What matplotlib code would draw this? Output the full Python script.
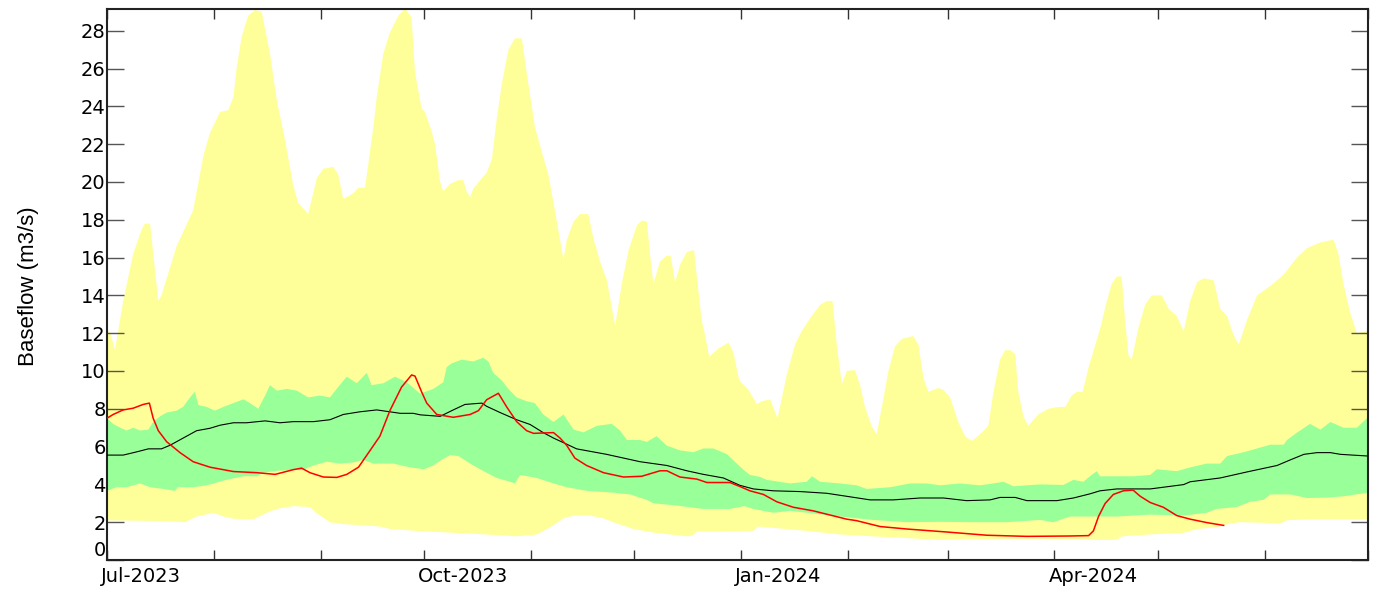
import numpy as np
import matplotlib
matplotlib.use("Agg")
import matplotlib.pyplot as plt
import matplotlib.dates as mdates
from matplotlib.transforms import ScaledTranslation
import datetime as dt

# ---------------- data (day offset from 1 Jul 2023, baseflow m3/s) ----------------
start_date = "2023-07-01"
end_date = "2024-07-01"

max_days = [0, 1, 2.3, 4.7, 7.6, 10.1, 11, 12.5, 14.9, 15.8, 20.2, 25, 28, 29.9, 32.8, 35.2,
            36.7, 37.6, 39.1, 41, 43, 44.9, 47.3, 49.3, 51.7, 54.1, 55.5, 58.4, 60.9, 62.8,
            65.7, 67.1, 68.6, 71.5, 73, 74.9, 77.3, 78.3, 80.2, 82.1, 84.6, 86.5, 88.4, 89.4,
            91.3, 92.3, 94.2, 95.2, 96.7, 97.6, 99.6, 102, 103.4, 104.4, 105.4, 106.3, 110.2,
            111.7, 113.1, 114.6, 116.5, 118.4, 120.4, 121.8, 124.2, 126.2, 128.1, 130, 132.5,
            133.4, 135.4, 137.3, 139.7, 141.2, 143.1, 145.1, 147.5, 149.4, 151.4, 153.8, 155.2,
            156.7, 157.6, 158.6, 160.5, 162.5, 163.6, 164.9, 166.3, 168.3, 170.4, 171.2, 172.6,
            173.6, 174.8, 177.5, 180.4, 181.8, 183.5, 186.2, 188.6, 190, 192.5, 194.6, 195.8,
            197.3, 199.7, 201.6, 204.5, 207, 208.9, 210.6, 211.8, 213.3, 214.7, 217.1, 218.6,
            220, 222, 223.4, 224.9, 226.8, 228.7, 230.7, 234, 235.5, 237, 238.4, 241.3, 242.8,
            244.7, 247.1, 249.1, 251, 253.4, 255.8, 257.3, 259.2, 260.7, 262.1, 263.6, 264.5,
            266, 267.4, 270.3, 273.2, 276.1, 278.1, 280, 281.5, 283.2, 284.9, 288.2, 290.2,
            291.6, 293.1, 294.5, 295.5, 296.5, 297.4, 299.4, 301.3, 303.2, 306.2, 308.1, 310.5,
            312.5, 314.4, 316.4, 318.3, 321.2, 323.1, 325.1, 327, 328.5, 330.9, 333.8, 337.7,
            341.5, 345.4, 348.3, 352.2, 356, 357.4, 358.9, 360.8, 362.8, 365.2, 366]
max_vals = [12.2, 12.0, 11.1, 13.7, 16.2, 17.5, 17.8, 17.8, 13.7, 14.0, 16.6, 18.5, 21.4, 22.6,
            23.7, 23.8, 24.5, 26.0, 27.7, 28.8, 29.1, 29.0, 26.8, 24.3, 22.2, 19.8, 18.9, 18.3,
            20.2, 20.7, 20.8, 20.4, 19.1, 19.4, 19.7, 19.7, 22.9, 24.5, 26.8, 27.9, 28.8, 29.2,
            28.7, 25.8, 23.9, 23.7, 22.7, 22.0, 20.0, 19.5, 19.9, 20.1, 20.1, 19.5, 19.2, 19.65,
            20.5, 21.2, 23.3, 25.2, 27.0, 27.6, 27.6, 25.8, 22.9, 21.6, 20.4, 18.5, 15.9, 16.9,
            17.9, 18.3, 18.3, 17.0, 15.8, 14.8, 12.4, 14.6, 16.4, 17.7, 17.96, 17.9, 16.2, 14.6,
            15.8, 16.1, 16.1, 14.7, 15.6, 16.3, 16.4, 15.0, 12.7, 11.9, 10.75, 11.2, 11.5, 11.0,
            9.5, 9.0, 8.25, 8.4, 8.5, 7.5, 8.5, 9.8, 11.4, 12.1, 12.9, 13.5, 13.7, 13.7, 11.4,
            9.3, 10.0, 10.05, 9.25, 8.1, 7.05, 6.65, 8.1, 10.0, 11.3, 11.7, 11.85, 11.4, 9.6,
            8.9, 9.1, 9.0, 8.6, 7.3, 6.55, 6.3, 6.65, 7.1, 8.9, 10.6, 11.1, 11.1, 10.9, 8.9,
            7.6, 7.1, 7.7, 8.0, 8.1, 8.1, 8.7, 8.9, 8.9, 10.2, 12.2, 13.7, 14.6, 15.0, 15.0,
            12.7, 10.8, 10.6, 12.3, 13.5, 14.0, 14.0, 13.3, 12.9, 12.1, 13.7, 14.7, 14.9, 14.8,
            13.3, 12.9, 11.9, 11.4, 12.7, 14.0, 14.5, 15.1, 16.0, 16.5, 16.8, 16.95, 16.2, 14.6,
            13.1, 12.0, 12.1, 12.1]

min_days = [0, 7.6, 17.3, 22.6, 26, 30.9, 33.8, 36.7, 42.5, 46.4, 49.3, 54.1, 58.9, 60.9, 64.7,
            68.6, 74.4, 79.2, 82.1, 89.9, 100.5, 110.2, 118.9, 124.7, 128.6, 132.5, 135.4, 140.2,
            144.1, 148, 152.8, 158.6, 168.3, 170.2, 171, 178, 186.6, 187.6, 189, 193.4, 203.1,
            212.8, 222.4, 232.1, 241.8, 251.5, 261.2, 270.8, 279.5, 285.3, 293.1, 294.5, 302.8,
            312.5, 316.4, 322.1, 326, 328.9, 335.6, 340.5, 342.4, 351.1, 360.8, 366]
min_vals = [2.1, 2.08, 2.06, 2.0, 2.3, 2.5, 2.3, 2.18, 2.16, 2.5, 2.7, 2.85, 2.8, 2.47, 2.0,
            1.9, 1.83, 1.77, 1.64, 1.54, 1.44, 1.35, 1.25, 1.35, 1.73, 2.2, 2.35, 2.35, 2.2, 1.93,
            1.64, 1.45, 1.25, 1.3, 1.5, 1.5, 1.54, 1.54, 1.77, 1.7, 1.54, 1.35, 1.25, 1.16, 1.06,
            1.1, 1.12, 1.12, 1.1, 1.06, 1.06, 1.25, 1.35, 1.44, 1.64, 1.73, 1.93, 2.0, 1.97, 1.93,
            2.1, 2.16, 2.16, 2.16]

p75_days = [0, 1.8, 3.8, 5.7, 7.6, 9.6, 12, 13.4, 15.4, 17.3, 20.2, 22.1, 24.1, 25.5, 26.5, 28.9,
            31.3, 33.8, 36.7, 39.6, 41.5, 43.9, 45.9, 47.3, 49.3, 52.2, 55.1, 58.4, 61.8, 64.7,
            67.1, 69.6, 72.5, 75.4, 76.8, 80.2, 83.6, 87, 90.9, 94.7, 97.6, 98.6, 100, 103, 106.3,
            109.2, 110.7, 112.1, 114.6, 116.5, 118.9, 121.8, 124.2, 126.6, 129.6, 132.5, 135.4,
            138.3, 142.2, 146.5, 148.9, 150.9, 154.7, 156.7, 159.5, 162.5, 166.3, 170.2, 173.1,
            176, 179.9, 182.8, 185.2, 186.6, 189.5, 191.5, 198.3, 203.1, 204.6, 207, 212.8, 217.6,
            220.5, 227.3, 233.1, 237.9, 241.8, 247.6, 253.4, 257.3, 260.2, 263.1, 270.8, 277.6,
            280.5, 283.4, 285.3, 287.3, 288.2, 297.9, 302.8, 304.7, 310.5, 314.4, 319.2, 323.1,
            325.1, 329.9, 333.8, 337.7, 341.5, 342.5, 345.4, 349.2, 352.2, 355.1, 358.9, 362.8, 366]
p75_vals = [7.5, 7.2, 7.0, 6.85, 7.0, 6.85, 6.9, 7.3, 7.6, 7.8, 7.9, 8.1, 8.6, 8.9, 8.2, 8.1, 7.9,
            8.1, 8.3, 8.5, 8.3, 8.0, 8.7, 9.25, 8.96, 9.05, 8.96, 8.6, 8.7, 8.6, 9.15, 9.7, 9.35,
            9.9, 9.25, 9.35, 9.7, 9.4, 8.8, 9.05, 9.4, 10.2, 10.4, 10.6, 10.5, 10.7, 10.5, 9.9, 9.5,
            9.05, 8.6, 8.4, 8.3, 7.7, 7.3, 7.7, 6.9, 6.75, 7.1, 7.2, 6.85, 6.35, 6.35, 6.25, 6.55,
            6.05, 5.8, 5.7, 5.9, 5.9, 5.6, 5.1, 4.7, 4.5, 4.4, 4.24, 4.05, 4.14, 4.43, 4.14, 4.05,
            3.95, 3.76, 3.85, 4.05, 4.05, 3.95, 4.05, 3.95, 4.05, 4.14, 3.9, 4.0, 3.97, 4.24, 4.14,
            4.43, 4.7, 4.43, 4.43, 4.5, 4.8, 4.7, 4.9, 5.1, 5.1, 5.5, 5.7, 5.9, 6.1, 6.1, 6.35,
            6.74, 7.2, 6.9, 7.3, 7.0, 7.0, 7.55]

p25_days = [0, 2.8, 5.7, 9.6, 12.5, 16.3, 19.7, 20.6, 25, 28.9, 34.7, 39.6, 43.5, 45.4, 49.3, 57,
            59.9, 63.8, 67.6, 71.5, 74.4, 77.3, 83.1, 88, 92, 94.7, 97.1, 99.6, 102, 105.4, 108.3,
            113.1, 117, 118.4, 119.9, 124.7, 129.6, 133.4, 139.2, 147, 151.8, 156.7, 158.6, 164.4,
            173.1, 180.8, 185, 187.6, 193.4, 198.3, 203.1, 212.8, 222.4, 232.1, 241.8, 251.5,
            261.2, 270.8, 274.7, 276.6, 279.5, 283.4, 293.1, 302.8, 312.5, 319.2, 322.1, 327.9,
            331.8, 335.6, 337.7, 343.5, 348.3, 354.1, 358.9, 366]
p25_vals = [3.66, 3.85, 3.85, 4.05, 3.85, 3.76, 3.66, 3.85, 3.85, 3.95, 4.24, 4.43, 4.43, 4.62,
            4.72, 4.78, 5.0, 5.2, 5.1, 5.16, 5.3, 5.1, 5.1, 4.9, 4.8, 5.0, 5.3, 5.55, 5.5, 5.1,
            4.8, 4.34, 4.14, 4.05, 4.5, 4.34, 4.05, 3.85, 3.66, 3.56, 3.47, 3.18, 3.0, 2.9, 2.7,
            2.7, 2.85, 2.7, 2.5, 2.6, 2.5, 2.3, 2.12, 2.0, 2.02, 2.0, 2.0, 2.12, 2.0, 2.12, 2.3,
            2.3, 2.3, 2.4, 2.35, 2.5, 2.7, 2.8, 3.08, 3.18, 3.47, 3.47, 3.28, 3.3, 3.37, 3.56]

median_days = [0, 4.7, 8.6, 12, 15.8, 18.3, 21.2, 23.1, 26, 29.9, 32.8, 36.7, 40.5, 45.9, 50.2,
               54.1, 59.9, 64.7, 68.6, 73.4, 78.3, 82.1, 85.1, 88.9, 90.9, 96.7, 100.5, 103.9,
               108.8, 110.2, 114.1, 118.9, 122.8, 126.6, 129.6, 133.4, 136.3, 145, 154.7, 162.5,
               168.3, 173.1, 178.9, 183.7, 187.6, 193.4, 201.2, 208.9, 214.7, 221.5, 228.2, 236,
               242.8, 249.5, 256.3, 259.2, 263.6, 267, 275.7, 280.5, 285.3, 288.2, 293.1, 302.8,
               312.5, 314.4, 323.1, 330.9, 339.6, 343.5, 347.4, 351.2, 355.1, 358, 366]
median_vals = [5.55, 5.55, 5.72, 5.88, 5.88, 6.07, 6.36, 6.55, 6.84, 6.97, 7.13, 7.26, 7.26, 7.36,
               7.26, 7.32, 7.32, 7.42, 7.7, 7.84, 7.94, 7.84, 7.76, 7.76, 7.68, 7.6, 7.94, 8.23,
               8.3, 8.13, 7.8, 7.42, 7.17, 6.74, 6.45, 6.13, 5.88, 5.59, 5.2, 5.0, 4.72, 4.53,
               4.34, 3.95, 3.76, 3.66, 3.62, 3.53, 3.37, 3.18, 3.18, 3.28, 3.28, 3.14, 3.18, 3.31,
               3.31, 3.14, 3.14, 3.28, 3.5, 3.66, 3.76, 3.76, 3.99, 4.14, 4.34, 4.66, 5.0, 5.3,
               5.59, 5.68, 5.68, 5.59, 5.5]

current_days = [0, 1.8, 4.7, 7.6, 10.5, 12.3, 13.4, 14.9, 17.3, 21.2, 25, 29.9, 36.7, 43.5, 48.8,
                54.1, 56.5, 58.9, 62.8, 66.7, 69.6, 73, 76.3, 79.2, 82.1, 85.5, 88.4, 89.4, 91.3,
                92.8, 95.7, 100.5, 105.4, 107.8, 110.2, 113.6, 116, 118.9, 121.8, 123.8, 129.6,
                131.5, 133.4, 135.8, 139.2, 144.1, 149.9, 155.2, 160.5, 162.5, 166.3, 171.2, 174.1,
                180.8, 184.2, 186.6, 190.5, 194.4, 199.2, 205, 214.7, 217.6, 224.4, 232.1, 243.8,
                255.4, 267, 279.5, 284.9, 286.3, 287.8, 289.7, 292.1, 295, 297.8, 299.9, 302.8,
                306.6, 310.5, 314.4, 319.2, 324.1]
current_vals = [7.5, 7.7, 7.94, 8.03, 8.23, 8.3, 7.5, 6.84, 6.26, 5.68, 5.2, 4.91, 4.68, 4.62,
                4.53, 4.78, 4.86, 4.62, 4.39, 4.37, 4.53, 4.91, 5.78, 6.55, 7.9, 9.15, 9.79, 9.73,
                8.9, 8.3, 7.7, 7.55, 7.7, 7.9, 8.48, 8.82, 8.1, 7.32, 6.84, 6.7, 6.74, 6.45, 6.07,
                5.39, 5.0, 4.62, 4.39, 4.43, 4.72, 4.72, 4.39, 4.28, 4.1, 4.1, 3.85, 3.66, 3.47,
                3.08, 2.79, 2.6, 2.16, 2.08, 1.77, 1.64, 1.48, 1.31, 1.25, 1.27, 1.29, 1.54, 2.31,
                2.99, 3.47, 3.66, 3.7, 3.37, 3.04, 2.79, 2.35, 2.16, 1.98, 1.83]

ytick_values = list(range(0, 29, 2))
xlabel_months = ["Jul-2023", "Oct-2023", "Jan-2024", "Apr-2024"]
ylabel_text = "Baseflow (m3/s)"

# ---------------- plotting ----------------
t0 = mdates.date2num(dt.datetime.fromisoformat(start_date))
t1 = mdates.date2num(dt.datetime.fromisoformat(end_date))


def tx(days):
    return t0 + np.asarray(days, dtype=float)


fig = plt.figure(figsize=(13.75, 5.89), dpi=100)
ax = fig.add_axes([107 / 1375, 29 / 589, 1261 / 1375, 551 / 589])

yellow = "#FFFF99"
green = "#99FF99"

ax.fill(np.concatenate([tx(max_days), tx(min_days)[::-1]]),
        np.concatenate([max_vals, min_vals[::-1]]), color=yellow, lw=0, zorder=1)
ax.fill(np.concatenate([tx(p75_days), tx(p25_days)[::-1]]),
        np.concatenate([p75_vals, p25_vals[::-1]]), color=green, lw=0, zorder=2)
ax.plot(tx(median_days), median_vals, color="black", lw=0.8, zorder=3)
ax.plot(tx(current_days), current_vals, color="red", lw=1.1, zorder=4)

ax.set_xlim(t0, t1)
ax.set_ylim(0, 29.15)

# x ticks: monthly, labels only quarterly
month_ticks = [mdates.date2num(dt.datetime(2023 + (6 + m) // 12, (6 + m) % 12 + 1, 1)) for m in range(13)]
ax.set_xticks(month_ticks)
labels = []
q = 0
for i in range(13):
    if i % 3 == 0 and q < len(xlabel_months):
        labels.append(xlabel_months[q])
        q += 1
    else:
        labels.append("")
ax.set_xticklabels(labels)

ax.set_yticks(ytick_values)
ax.set_yticklabels([str(v) for v in ytick_values])

tick_font = ["DejaVu Sans"]
ax.tick_params(axis="x", direction="in", length=7, width=1, color="#333333", top=True,
               labelsize=14, pad=5)
ax.tick_params(axis="y", direction="in", length=12, width=1, color="#555555", right=True,
               labelsize=14, pad=1)
for lab in ax.get_xticklabels():
    lab.set_family(tick_font)
    lab.set_horizontalalignment("left")
    lab.set_transform(lab.get_transform() + ScaledTranslation(-6 / 100, 0, fig.dpi_scale_trans))
for lab in ax.get_yticklabels():
    lab.set_family(tick_font)
ylabs = ax.get_yticklabels()
ylabs[0].set_transform(ylabs[0].get_transform() + ScaledTranslation(0, 12 / 100, fig.dpi_scale_trans))

for s in ax.spines.values():
    s.set_linewidth(1.5)
    s.set_color("#222222")

fig.text(29 / 1375, 1 - 286 / 589, ylabel_text, rotation=90, ha="center", va="center",
         fontsize=16, family=["Liberation Sans", "DejaVu Sans"])

fig.savefig("out.png", dpi=100)
